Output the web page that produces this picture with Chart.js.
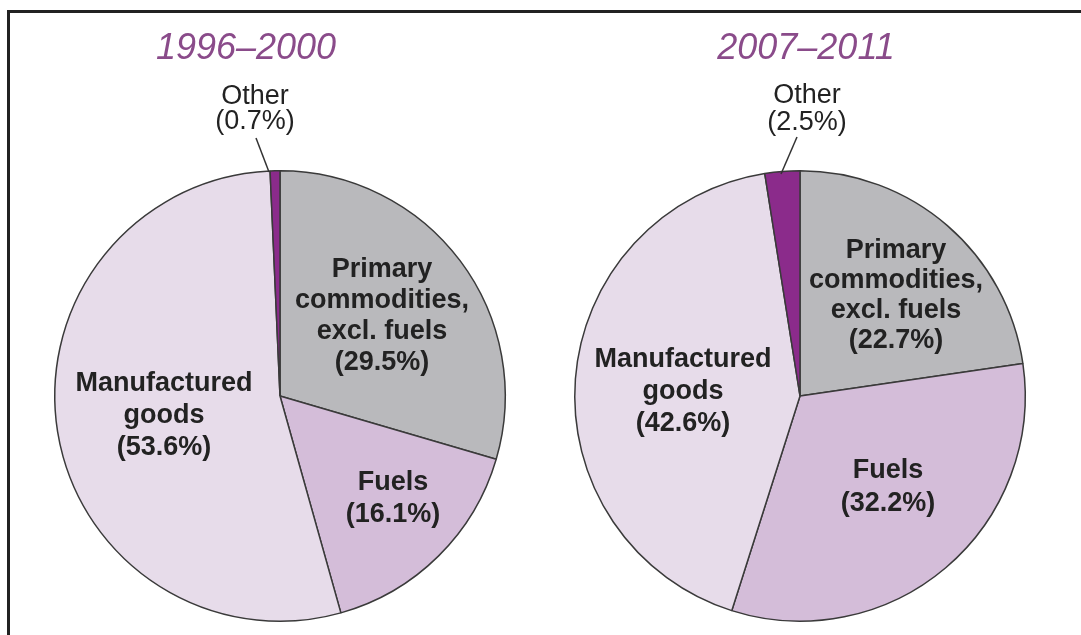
<!DOCTYPE html>
<html>
<head>
<meta charset="utf-8">
<script src="https://cdn.jsdelivr.net/npm/chart.js@4"></script>
<style>
  html, body { margin: 0; padding: 0; background: #fff; }
  #wrap { position: relative; width: 1081px; height: 635px; overflow: hidden; }
  #frame { position: absolute; left: 7px; top: 10px; width: 1074px; height: 625px;
           border-top: 3px solid #222; border-left: 3px solid #222; box-sizing: border-box; }
  canvas { position: absolute; top: 0; }
</style>
</head>
<body>
<div id="wrap">
  <div id="frame"></div>
  <canvas id="left" width="540" height="635" style="left:0"></canvas>
  <canvas id="right" width="541" height="635" style="left:540px"></canvas>
</div>
<script>
// data
const categories = ['Primary commodities, excl. fuels', 'Fuels', 'Manufactured goods', 'Other'];
const labelLines = [['Primary', 'commodities,', 'excl. fuels'], ['Fuels'], ['Manufactured', 'goods'], ['Other']];
const shares1996 = [29.5, 16.1, 53.6, 0.7];
const shares2007 = [22.7, 32.2, 42.6, 2.5];
const periods = ['1996–2000', '2007–2011'];
const sliceColors = ['#b9b9bc', '#d4bdd9', '#e7dcea', '#8b2b8b'];

// label placement, relative to pie centre
const leftLayout = {
  title: periods[0], titleDx: -34, titleDy: -347,
  spots: [[102, -126, 31], [113, 87, 32], [-116, -12, 32], [-25, -299, 25]],
  leader: [-24, -258, -11, -224]
};
const rightLayout = {
  title: periods[1], titleDx: 6, titleDy: -347,
  spots: [[96, -145, 30], [88, 75, 33], [-117, -36, 32], [7, -300, 27]],
  leader: [-3, -259, -19, -222]
};

const pieLabels = {
  id: 'pieLabels',
  afterDatasetsDraw(chart, args, opts) {
    const ctx = chart.ctx;
    const arc = chart.getDatasetMeta(0).data[0];
    const cx = arc.x, cy = arc.y;
    ctx.save();
    ctx.textAlign = 'center';
    ctx.textBaseline = 'middle';
    ctx.fillStyle = '#8a4b8a';
    ctx.font = 'italic 36px "Liberation Sans"';
    ctx.fillText(opts.title, cx + opts.titleDx, cy + opts.titleDy);

    const values = chart.data.datasets[0].data;
    ctx.fillStyle = '#222';
    values.forEach((v, i) => {
      const spot = opts.spots[i];
      const lines = labelLines[i].concat('(' + v.toFixed(1) + '%)');
      ctx.font = (i === 3 ? '' : 'bold ') + '27px "Liberation Sans"';
      lines.forEach((t, k) => ctx.fillText(t, cx + spot[0], cy + spot[1] + k * spot[2]));
    });

    const l = opts.leader;
    ctx.strokeStyle = '#333';
    ctx.lineWidth = 1.5;
    ctx.beginPath();
    ctx.moveTo(cx + l[0], cy + l[1]);
    ctx.lineTo(cx + l[2], cy + l[3]);
    ctx.stroke();
    ctx.restore();
  }
};

function makePie(id, values, layout, padding) {
  return new Chart(document.getElementById(id), {
    type: 'pie',
    data: {
      labels: categories,
      datasets: [{
        data: values,
        backgroundColor: sliceColors,
        borderColor: '#3a3a3a',
        borderWidth: 1.5
      }]
    },
    options: {
      responsive: false,
      animation: false,
      layout: { padding },
      plugins: {
        legend: { display: false },
        tooltip: { enabled: false },
        pieLabels: layout
      }
    },
    plugins: [pieLabels]
  });
}

makePie('left', shares1996, leftLayout, { left: 54, right: 34, top: 170, bottom: 13 });
makePie('right', shares2007, rightLayout, { left: 34, right: 55, top: 170, bottom: 13 });
</script>
</body>
</html>
